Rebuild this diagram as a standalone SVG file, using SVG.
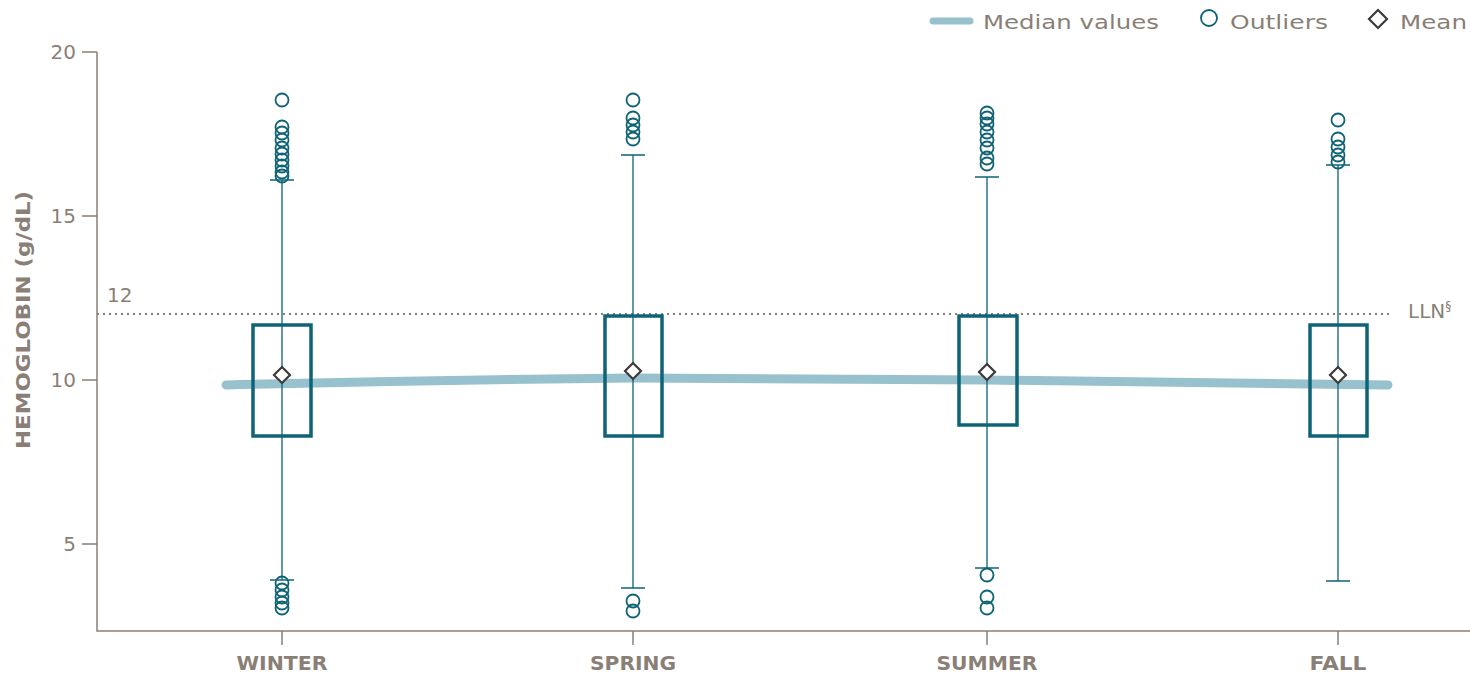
<svg xmlns="http://www.w3.org/2000/svg" width="1470" height="678" viewBox="0 0 1470 678">
<style>
.ax{stroke:#8a7f76;stroke-width:1.5;fill:none}
.t{font-family:"DejaVu Sans",sans-serif;font-size:20px;fill:#8a7f76}
.c{font-family:"DejaVu Sans",sans-serif;font-size:20px;font-weight:bold;fill:#8a7f76;text-anchor:middle}
.box{fill:none;stroke:#0e6377;stroke-width:3.5}
.wh{stroke:#0e6377;stroke-width:1.3;fill:none}
.o{fill:none;stroke:#0e6377;stroke-width:1.8}
.m{fill:#fff;stroke:#3d3a3a;stroke-width:2.2}
</style>
<rect width="1470" height="678" fill="#fff"/>
<g id="axes">
<path class="ax" d="M97 52V631H1470M82 52H97M82 216H97M82 380H97M82 544H97M282 631V645M633 631V645M987 631V645M1338 631V645"/>
<text class="t" x="76" y="59" text-anchor="end">20</text>
<text class="t" x="76" y="223" text-anchor="end">15</text>
<text class="t" x="76" y="387" text-anchor="end">10</text>
<text class="t" x="76" y="551" text-anchor="end">5</text>
<text class="c" transform="translate(30,320) rotate(-90)" font-size="22" textLength="258" lengthAdjust="spacingAndGlyphs">HEMOGLOBIN (g/dL)</text>
<text class="c" x="282" y="670" textLength="91" lengthAdjust="spacingAndGlyphs">WINTER</text>
<text class="c" x="633" y="670" textLength="86" lengthAdjust="spacingAndGlyphs">SPRING</text>
<text class="c" x="987" y="670" textLength="101" lengthAdjust="spacingAndGlyphs">SUMMER</text>
<text class="c" x="1338" y="670" textLength="57" lengthAdjust="spacingAndGlyphs">FALL</text>
<line x1="97" y1="314" x2="1390" y2="314" stroke="#8a7f76" stroke-width="2" stroke-dasharray="2 4"/>
<text class="t" x="107" y="302">12</text>
<text class="t" x="1408" y="318">LLN<tspan font-size="12" dy="-8">§</tspan></text>
</g>
<g id="connectors">
<path d="M226 385 Q430 380 633 378 Q810 379 987 380 Q1160 382 1388 385" stroke="#97c1cc" stroke-width="9" fill="none" stroke-linecap="round"/>
</g>
<g id="winter">
<path class="wh" d="M282 180V580M270 180H294M270 580H294"/>
<rect class="box" x="253" y="325" width="58" height="111"/>
<g class="o"><circle cx="282" cy="100" r="6.5"/><circle cx="282" cy="127" r="6.5"/><circle cx="282" cy="133" r="6.5"/><circle cx="282" cy="140" r="6.5"/><circle cx="282" cy="148" r="6.5"/><circle cx="282" cy="154" r="6.5"/><circle cx="282" cy="160" r="6.5"/><circle cx="282" cy="166" r="6.5"/><circle cx="282" cy="172" r="6.5"/><circle cx="282" cy="176" r="6.5"/><circle cx="282" cy="583" r="6.5"/><circle cx="282" cy="590" r="6.5"/><circle cx="282" cy="597" r="6.5"/><circle cx="282" cy="603" r="6.5"/><circle cx="282" cy="608" r="6.5"/></g>
<path class="m" d="M282 367L290 375L282 383L274 375Z"/>
</g>
<g id="spring">
<path class="wh" d="M633 155V588M621 155H645M621 588H645"/>
<rect class="box" x="605" y="316" width="57" height="120"/>
<g class="o"><circle cx="633" cy="100" r="6.5"/><circle cx="633" cy="118" r="6.5"/><circle cx="633" cy="125" r="6.5"/><circle cx="633" cy="132" r="6.5"/><circle cx="633" cy="139" r="6.5"/><circle cx="633" cy="601" r="6.5"/><circle cx="633" cy="611" r="6.5"/></g>
<path class="m" d="M633 363L641 371L633 379L625 371Z"/>
</g>
<g id="summer">
<path class="wh" d="M987 177V568M975 177H999M975 568H999"/>
<rect class="box" x="959" y="316" width="58" height="109"/>
<g class="o"><circle cx="987" cy="113" r="6.5"/><circle cx="987" cy="118" r="6.5"/><circle cx="987" cy="124" r="6.5"/><circle cx="987" cy="132" r="6.5"/><circle cx="987" cy="140" r="6.5"/><circle cx="987" cy="148" r="6.5"/><circle cx="987" cy="158" r="6.5"/><circle cx="987" cy="164" r="6.5"/><circle cx="987" cy="575" r="6.5"/><circle cx="987" cy="597" r="6.5"/><circle cx="987" cy="608" r="6.5"/></g>
<path class="m" d="M987 364L995 372L987 380L979 372Z"/>
</g>
<g id="fall">
<path class="wh" d="M1338 165V581M1326 165H1350M1326 581H1350"/>
<rect class="box" x="1310" y="325" width="57" height="111"/>
<g class="o"><circle cx="1338" cy="120" r="6.5"/><circle cx="1338" cy="139" r="6.5"/><circle cx="1338" cy="147" r="6.5"/><circle cx="1338" cy="155" r="6.5"/><circle cx="1338" cy="162" r="6.5"/></g>
<path class="m" d="M1338 367L1346 375L1338 383L1330 375Z"/>
</g>
<g id="legend">
<line x1="933" y1="21" x2="970" y2="21" stroke="#97c1cc" stroke-width="7" stroke-linecap="round"/>
<text class="t" x="983" y="29" font-size="24" textLength="176" lengthAdjust="spacingAndGlyphs">Median values</text>
<circle class="o" cx="1209" cy="18" r="8"/>
<text class="t" x="1230" y="29" font-size="24" textLength="98" lengthAdjust="spacingAndGlyphs">Outliers</text>
<path class="m" d="M1378 10L1387 19L1378 28L1369 19Z"/>
<text class="t" x="1400" y="29" font-size="24" textLength="67" lengthAdjust="spacingAndGlyphs">Mean</text>
</g>
</svg>
